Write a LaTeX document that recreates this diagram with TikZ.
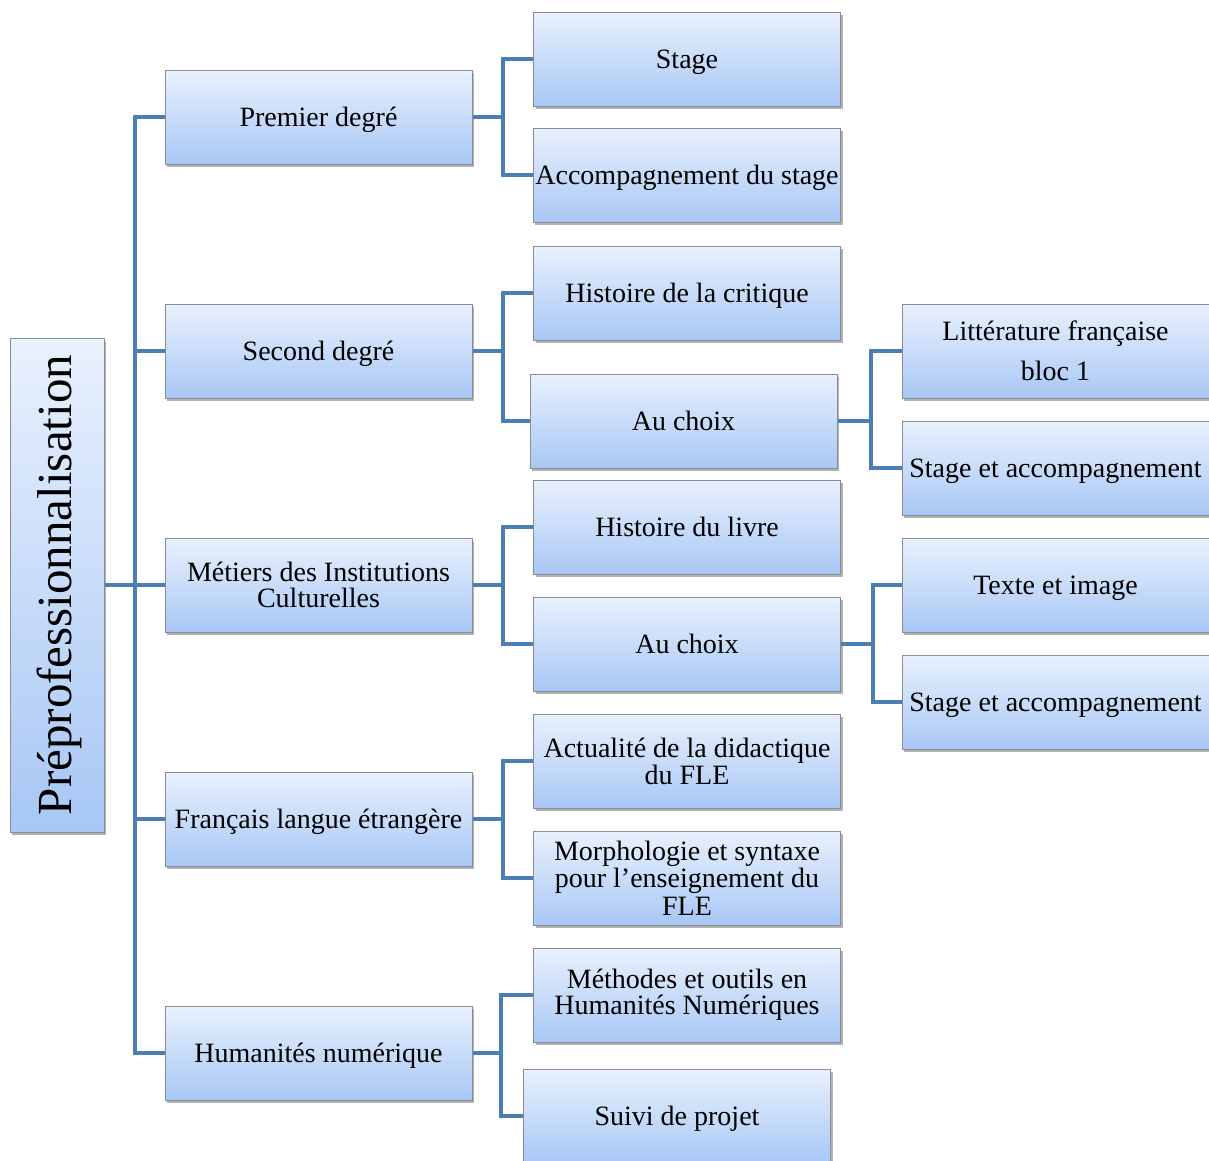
\documentclass[tikz,border=0pt]{standalone}
\usepackage{fontspec}
\setmainfont{Liberation Serif}
\usetikzlibrary{shadows}
\definecolor{boxtop}{RGB}{233,241,253}
\definecolor{boxbot}{RGB}{168,199,245}
\definecolor{boxline}{RGB}{135,140,150}
\definecolor{conncol}{RGB}{74,126,180}
\tikzset{
  box/.style={draw=boxline, line width=1pt, top color=boxtop, bottom color=boxbot,
    minimum width=307pt, minimum height=94pt, inner sep=2pt, align=center,
    font=\fontsize{28}{28}\selectfont,
    drop shadow={shadow xshift=2pt, shadow yshift=-3pt, opacity=0.3, fill=black}},
  oneline/.style={text height=18pt, text depth=0pt},
  conn/.style={draw=conncol, line width=4pt},
}
\begin{document}
\begin{tikzpicture}[x=1pt,y=-1pt]
\clip (0,0) rectangle (1209,1160);
\fill[white] (0,0) rectangle (1209,1160);
% root
\node[box, minimum width=94pt, minimum height=494pt] (root) at (57,585) {};
\node[rotate=90, font=\fontsize{49}{49}\selectfont] (roottxt) at ([xshift=2pt]root.center) {Préprofessionnalisation};
% level 1
\node[box, oneline] (pd) at (318.5,117) {Premier degré};
\node[box, oneline] (sd) at (318.5,351) {Second degré};
\node[box] (mi) at (318.5,585) {Métiers des Institutions\\[-2pt]Culturelles};
\node[box, oneline] (fl) at (318.5,819) {Français langue étrangère};
\node[box, oneline] (hn) at (318.5,1053) {Humanités numérique};
% level 2
\node[box, oneline] (st) at (687,59) {Stage};
\node[box, oneline] (ac) at (687,175) {Accompagnement du stage};
\node[box, oneline] (hc) at (687,293) {Histoire de la critique};
\node[box, oneline] (ch1) at (683.5,421) {Au choix};
\node[box, oneline] (hl) at (687,527) {Histoire du livre};
\node[box, oneline] (ch2) at (687,644) {Au choix};
\node[box] (ad) at (687,761) {Actualité de la didactique\\[-1pt]du FLE};
\node[box] (ms) at (687,878) {Morphologie et syntaxe\\[-1pt]pour l’enseignement du\\[0pt]FLE};
\node[box] (mo) at (687,995) {Méthodes et outils en\\[-2pt]Humanités Numériques};
\node[box, oneline] (sp) at (677,1116) {Suivi de projet};
% level 3
\node[box] (lf) at (1055.5,351) {Littérature française\\[12pt]bloc 1};
\node[box, oneline] (sa1) at (1055.5,468) {Stage et accompagnement};
\node[box, oneline] (ti) at (1055.5,585) {Texte et image};
\node[box, oneline] (sa2) at (1055.5,702) {Stage et accompagnement};
% trunk
\coordinate (tr) at (135,0);
\draw[conn] (root.east) -- (root.east -| tr);
\draw[conn] (pd.west) -- (pd.west -| tr) -- (hn.west -| tr) -- (hn.west);
\draw[conn] (sd.west) -- (sd.west -| tr);
\draw[conn] (mi.west) -- (mi.west -| tr);
\draw[conn] (fl.west) -- (fl.west -| tr);
% level 1 -> level 2
\draw[conn] (pd.east) -- ([xshift=30pt]pd.east);
\draw[conn] (st.west) -| ([xshift=30pt]pd.east) |- (ac.west);
\draw[conn] (sd.east) -- ([xshift=30pt]sd.east);
\draw[conn] (hc.west) -| ([xshift=30pt]sd.east) |- (ch1.west);
\draw[conn] (mi.east) -- ([xshift=30pt]mi.east);
\draw[conn] (hl.west) -| ([xshift=30pt]mi.east) |- (ch2.west);
\draw[conn] (fl.east) -- ([xshift=30pt]fl.east);
\draw[conn] (ad.west) -| ([xshift=30pt]fl.east) |- (ms.west);
\draw[conn] (hn.east) -- ([xshift=28pt]hn.east);
\draw[conn] (mo.west) -| ([xshift=28pt]hn.east) |- (sp.west);
% level 2 -> level 3
\draw[conn] (ch1.east) -- ([xshift=33pt]ch1.east);
\draw[conn] (lf.west) -| ([xshift=33pt]ch1.east) |- (sa1.west);
\draw[conn] (ch2.east) -- ([xshift=32pt]ch2.east);
\draw[conn] (ti.west) -| ([xshift=32pt]ch2.east) |- (sa2.west);
\end{tikzpicture}
\end{document}
